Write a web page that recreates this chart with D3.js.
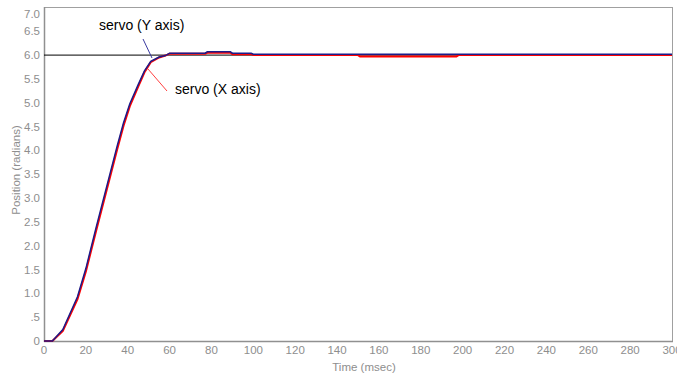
<!DOCTYPE html>
<html><head><meta charset="utf-8">
<script src="https://cdn.jsdelivr.net/npm/d3@7"></script>
<style>
html,body{margin:0;padding:0;background:#fff;}
svg{display:block;font-family:"Liberation Sans",Arial,sans-serif;}
</style></head>
<body><div id="chart"></div>
<script>
// ---- data ----
const timeMs  = [0, 4, 9, 16, 20, 25, 30, 35, 38, 41, 45, 48, 51, 55, 58, 60, 77, 78, 89, 90, 99, 100, 150, 151, 197, 198, 300];
const servoY  = [0, 0, 0.24, 0.93, 1.52, 2.4, 3.25, 4.1, 4.58, 4.98, 5.38, 5.67, 5.87, 5.96, 5.99, 6.04, 6.04, 6.07, 6.07, 6.04, 6.04, 6.02, 6.02, 6.02, 6.02, 6.02, 6.02];
const servoX  = [0, 0, 0.21, 0.88, 1.46, 2.33, 3.18, 4.03, 4.52, 4.93, 5.34, 5.64, 5.85, 5.95, 5.99, 6.03, 6.03, 6.05, 6.05, 6.02, 6.02, 6.0, 6.0, 5.97, 5.97, 6.0, 6.0];
const target = 6.0;
const xTicks = [0,20,40,60,80,100,120,140,160,180,200,220,240,260,280,300];
const yTicks = [0,0.5,1,1.5,2,2.5,3,3.5,4,4.5,5,5.5,6,6.5,7];
const yTickLabels = ["0",".5","1.0","1.5","2.0","2.5","3.0","3.5","4.0","4.5","5.0","5.5","6.0","6.5","7.0"];
const seriesNames = ["servo (Y axis)", "servo (X axis)"];

// ---- layout ----
const W = 685, H = 374;
const L = 44, R = 672, T = 7, B = 341;
const svg = d3.select("#chart").append("svg").attr("width", W).attr("height", H);
const x = d3.scaleLinear().domain([0, 300]).range([L, R]);
const y = d3.scaleLinear().domain([0, 7]).range([B, B - 7 * 47.65]);

// frame
svg.append("rect").attr("x", L + 0.5).attr("y", T + 0.5).attr("width", R - L).attr("height", B - T)
  .attr("fill", "none").attr("stroke", "#a0a0a0").attr("stroke-width", 1);

// axis lines
svg.append("line").attr("x1", L + 0.5).attr("x2", L + 0.5).attr("y1", T).attr("y2", B + 1)
  .attr("stroke", "#909090").attr("stroke-width", 1.5);
svg.append("line").attr("x1", L).attr("x2", R + 1).attr("y1", B + 0.5).attr("y2", B + 0.5)
  .attr("stroke", "#909090").attr("stroke-width", 1.5);

// tick labels
const tickColor = "#8e8e8e";
svg.append("clipPath").attr("id", "xclip").append("rect")
  .attr("x", 0).attr("y", 0).attr("width", 677).attr("height", H);
svg.append("g").attr("clip-path", "url(#xclip)")
  .selectAll("text").data(xTicks).join("text")
  .attr("x", d => x(d)).attr("y", 354)
  .attr("text-anchor", "middle").attr("font-size", 11.5).attr("fill", tickColor)
  .text(d => d);

svg.append("g").selectAll("text").data(yTicks).join("text")
  .attr("x", 40).attr("y", d => Math.max(y(d), 14) + 4)
  .attr("text-anchor", "end").attr("font-size", 11.5).attr("fill", tickColor)
  .text((d, i) => yTickLabels[i]);

// axis titles
svg.append("text").attr("x", 364).attr("y", 371).attr("text-anchor", "middle")
  .attr("font-size", 11.5).attr("fill", tickColor).text("Time (msec)");
svg.append("text").attr("transform", `translate(20,${(T + B) / 2 - 4}) rotate(-90)`)
  .attr("text-anchor", "middle").attr("font-size", 11.5).attr("fill", tickColor)
  .text("Position (radians)");

// target line
svg.append("line").attr("x1", x(0)).attr("x2", x(300)).attr("y1", y(target)).attr("y2", y(target))
  .attr("stroke", "#000").attr("stroke-width", 1);

// curves
const line = d3.line().x(d => x(d[0])).y(d => y(d[1]));
svg.append("path").datum(timeMs.map((t, i) => [t, servoX[i]]))
  .attr("d", line).attr("fill", "none").attr("stroke", "#ff0000").attr("stroke-width", 2);
svg.append("path").datum(timeMs.map((t, i) => [t, servoY[i]]))
  .attr("d", line).attr("fill", "none").attr("stroke", "#1c1c8a").attr("stroke-width", 1.5);

// annotations
svg.append("line").attr("x1", 143).attr("y1", 39).attr("x2", 152).attr("y2", 58)
  .attr("stroke", "#3a3aa0").attr("stroke-width", 1);
svg.append("text").attr("x", 99).attr("y", 30).attr("font-size", 14).attr("fill", "#000")
  .text(seriesNames[0]);
svg.append("line").attr("x1", 148).attr("y1", 69).attr("x2", 167).attr("y2", 91)
  .attr("stroke", "#ff4040").attr("stroke-width", 1);
svg.append("text").attr("x", 175).attr("y", 94).attr("font-size", 14).attr("fill", "#000")
  .text(seriesNames[1]);
</script></body></html>
